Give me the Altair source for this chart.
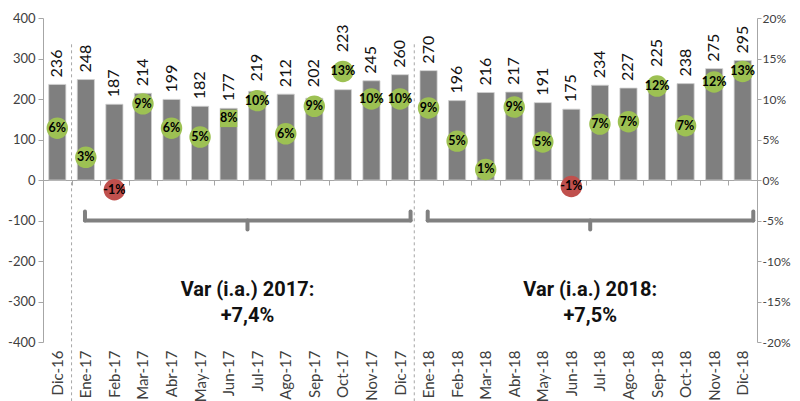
import altair as alt
import pandas as pd

cats = ["Dic-16", "Ene-17", "Feb-17", "Mar-17", "Abr-17", "May-17", "Jun-17", "Jul-17",
        "Ago-17", "Sep-17", "Oct-17", "Nov-17", "Dic-17", "Ene-18", "Feb-18", "Mar-18",
        "Abr-18", "May-18", "Jun-18", "Jul-18", "Ago-18", "Sep-18", "Oct-18", "Nov-18", "Dic-18"]
values = [236, 248, 187, 214, 199, 182, 177, 219, 212, 202, 223, 245, 260,
          270, 196, 216, 217, 191, 175, 234, 227, 225, 238, 275, 295]
pcts = [0.064, 0.028, -0.012, 0.094, 0.064, 0.053, 0.076, 0.098, 0.057, 0.091, 0.134, 0.100, 0.100,
        0.089, 0.048, 0.013, 0.090, 0.047, -0.008, 0.069, 0.072, 0.116, 0.067, 0.121, 0.134]

left_ticks = [-400, -300, -200, -100, 0, 100, 200, 300, 400]
right_ticks = [-0.20, -0.15, -0.10, -0.05, 0.0, 0.05, 0.10, 0.15, 0.20]

period_start = ["Ene-17", "Ene-18"]
period_end = ["Dic-17", "Dic-18"]
period_mid = ["Jul-17", "Jul-18"]
period_text = ["Var (i.a.) 2017:\n+7,4%", "Var (i.a.) 2018:\n+7,5%"]

df = pd.DataFrame({"cat": cats, "value": values, "pct": pcts})
ann = pd.DataFrame({"start": period_start, "end": period_end, "mid": period_mid,
                    "txt": period_text, "ybar": [-100, -100], "ytip": [-78, -78],
                    "ynub": [-122, -122], "ytxt": [-272, -272], "ytop": [335, 335]})

W, H = 714, 324
GRAY = "#A6A6A6"
LBL = "#404040"
MINUS = "\u2212"

xscale = alt.Scale(domain=cats, paddingInner=0, paddingOuter=0)
xaxis = alt.Axis(title=None, orient="bottom", offset=-H / 2, labelAngle=270,
                 labelPadding=165, tickSize=5, tickBand="extent", tickColor=GRAY,
                 domainColor=GRAY, labelFont="Lato", labelFontSize=15, labelColor=LBL)

yl = alt.Scale(domain=[-400, 400], nice=False, zero=False)
yr = alt.Scale(domain=[-0.2, 0.2], nice=False, zero=False)

left_axis = alt.Axis(title=None, values=left_ticks, grid=False, tickSize=5, tickColor=GRAY,
                     domainColor=GRAY, labelFont="Lato", labelFontSize=13, labelColor=LBL,
                     labelPadding=3, labelExpr=f"replace(datum.label, '{MINUS}', '-')")
right_axis = alt.Axis(title=None, orient="right", values=right_ticks, format=".0%", grid=False,
                      tickSize=4, tickColor=GRAY, domainColor=GRAY, labelFont="Lato",
                      labelFontSize=12, labelColor=LBL, labelPadding=1,
                      labelExpr=f"replace(datum.label, '{MINUS}', '-')")


def X(field, bp=None):
    if bp is None:
        return alt.X(f"{field}:N", scale=xscale, axis=xaxis, sort=cats)
    return alt.X(f"{field}:N", scale=xscale, axis=xaxis, sort=cats, bandPosition=bp)


def YL(field):
    return alt.Y(field, scale=yl, axis=left_axis, title=None)


def YR(field):
    return alt.Y(field, scale=yr, axis=right_axis, title=None)


base = alt.Chart(df)

bars = base.mark_bar(width=alt.RelativeBandSize(0.6), color="#7F7F7F",
                     stroke="#D0D0D0", strokeWidth=0.8).encode(
    x=X("cat"), y=YL("value:Q"))

bar_labels = base.transform_calculate(
    m="datum.pct * 2000",
).transform_calculate(
    lab_base="datum.m > datum.value - 25 ? max(datum.value, datum.m + 30) : datum.value"
).mark_text(angle=270, align="left", baseline="middle", dx=7, font="Lato",
            fontSize=16, color="#111111").encode(
    x=X("cat"), y=YL("lab_base:Q"), text="value:Q")

ann_base = alt.Chart(ann)
dash = ann_base.mark_rule(strokeDash=[3, 3], color=GRAY, strokeWidth=1).encode(
    x=X("start", 0), y=YL("ytop:Q"), y2=alt.value(H + 62))

BR = dict(color="#808080", strokeWidth=4, strokeCap="round")
brace_h = ann_base.mark_rule(**BR).encode(
    x=X("start", 0.47), x2=alt.X2("end", bandPosition=0.87), y=YL("ybar:Q"))
brace_l = ann_base.mark_rule(**BR).encode(
    x=X("start", 0.47), y=YL("ybar:Q"), y2="ytip:Q")
brace_r = ann_base.mark_rule(**BR).encode(
    x=X("end", 0.87), y=YL("ybar:Q"), y2="ytip:Q")
brace_n = ann_base.mark_rule(**BR).encode(
    x=X("mid", 0.16), y=YL("ybar:Q"), y2="ynub:Q")
ann_text = ann_base.mark_text(font="Roboto", fontWeight="bold", fontSize=20, lineBreak="\n",
                              lineHeight=26, align="center", baseline="middle",
                              color="#111111").encode(
    x=X("mid", 0.16), y=YL("ytxt:Q"), text="txt:N")

points = base.transform_calculate(
    shp="datum.cat == 'Jun-17' ? 'square' : 'circle'"
).mark_point(filled=True, opacity=1, strokeWidth=0).encode(
    x=X("cat"), y=YR("pct:Q"),
    color=alt.condition("datum.pct < 0", alt.value("#C0504D"), alt.value("#9DC153")),
    shape=alt.Shape("shp:N", scale=None),
    size=alt.condition("datum.cat == 'Jun-17'", alt.value(300), alt.value(460)))

point_labels = base.transform_calculate(
    lab=f"replace(format(datum.pct, '.0%'), '{MINUS}', '-')"
).mark_text(font="Lato", fontWeight="bold", fontSize=12.5, color="#000000",
            align="center", baseline="middle").encode(
    x=X("cat"), y=YR("pct:Q"), text="lab:N")

left = alt.layer(bars, bar_labels, dash, brace_h, brace_l, brace_r, brace_n, ann_text)
right = alt.layer(points, point_labels)

chart = alt.layer(left, right).resolve_scale(y="independent").properties(
    width=W, height=H,
    autosize=alt.AutoSizeParams(type="none"),
    padding={"left": 35, "top": 10, "right": 35, "bottom": 60},
).configure_view(stroke=None)

chart.save("out.html", embed_options={"renderer": "svg", "actions": False})
